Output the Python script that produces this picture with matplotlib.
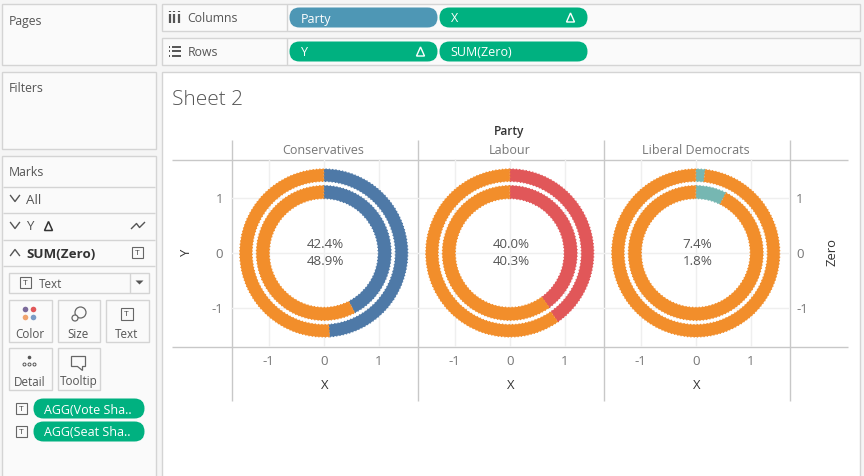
import matplotlib
matplotlib.use("Agg")
import matplotlib.pyplot as plt
from matplotlib.patches import Rectangle, FancyBboxPatch, Circle, Polygon

plt.rcParams["font.family"] = ["Open Sans", "DejaVu Sans"]

parties = ["Conservatives", "Labour", "Liberal Democrats"]
vote_share = [42.4, 40.0, 7.4]
seat_share = [48.9, 40.3, 1.8]
party_colors = ["#4E79A7", "#E15759", "#76B7B2"]
ticks = [-1, 0, 1]
other_color = "#F28E2B"

W, H = 864, 476
GREEN = "#00B180"
BORDER = "#D4D4D4"
LINE = "#C8C8C8"
TXT = "#555555"

fig = plt.figure(figsize=(W / 100, H / 100), dpi=100, facecolor="#F5F5F5")

# whole figure in pixels for the Tableau window around the chart
ui = fig.add_axes([0, 0, 1, 1])
ui.set_xlim(0.5, W + 0.5)
ui.set_ylim(H + 0.5, 0.5)
ui.axis("off")


def box(x0, y0, x1, y1, face="#FAFAFA", edge=BORDER, lw=1):
    ui.add_patch(Rectangle((x0, y0), x1 - x0, y1 - y0, fc=face, ec=edge, lw=lw))


def pill(x0, y0, x1, y1, label, color=GREEN, delta=False, r=9, size=9):
    ui.add_patch(FancyBboxPatch((x0 + r, y0 + r), x1 - x0 - 2 * r, y1 - y0 - 2 * r,
                                boxstyle=f"round,pad={r},rounding_size={r}", fc=color, ec="none"))
    ui.text(x0 + 11, (y0 + y1) / 2, label, color="white", fontsize=size, va="center_baseline")
    if delta:
        dx = x1 - 17
        ym = (y0 + y1) / 2
        ui.add_patch(Polygon([(dx - 4, ym + 4.5), (dx + 4, ym + 4.5), (dx, ym - 4.5)], fc="none", ec="white", lw=1))


def t_icon(x, y, s=11):
    ui.add_patch(Rectangle((x - s / 2, y - s / 2), s, s, fc="none", ec="#666666", lw=0.8))
    ui.text(x, y, "T", fontsize=6, color="#444444", ha="center", va="center_baseline")


def hline(y, x0, x1, c=BORDER):
    ui.plot([x0, x1], [y, y], color=c, lw=1, solid_capstyle="butt")


def vline(x, y0, y1, c=BORDER):
    ui.plot([x, x], [y0, y1], color=c, lw=1, solid_capstyle="butt")


# left cards
box(2, 4, 156, 65)
ui.text(9, 20, "Pages", fontsize=8.8, color=TXT, va="center_baseline")
box(2, 72, 156, 149)
ui.text(9, 88, "Filters", fontsize=8.8, color=TXT, va="center_baseline")
box(2, 156, 156, 482)
ui.text(9, 172, "Marks", fontsize=8.8, color=TXT, va="center_baseline")
for y in [187, 213, 240, 266]:
    hline(y, 3, 155)


def chevron(y, up=False):
    d = -3 if up else 3
    ui.plot([11, 15.5, 20], [y - d, y + d, y - d], color="#555555", lw=1)


chevron(199)
ui.text(27, 199, "All", fontsize=9.6, color=TXT, va="center_baseline")
chevron(226)
ui.text(27, 226, "Y", fontsize=9.6, color=TXT, va="center_baseline")
ui.add_patch(Polygon([(45, 231), (53, 231), (49, 222)], fc="none", ec="#333333", lw=1.1))
ui.plot([132, 137, 140, 145], [229, 224, 228, 223], color="#555555", lw=1)
chevron(253, up=True)
ui.text(27, 253, "SUM(Zero)", fontsize=9.6, fontweight="bold", color="#333333", va="center_baseline")
t_icon(138, 253)

# mark type dropdown
box(9, 273, 149, 293, face="#FAFAFA")
vline(130, 273, 293)
t_icon(26, 283)
ui.text(39, 284, "Text", fontsize=8.4, color=TXT, va="center_baseline")
ui.add_patch(Polygon([(136, 281), (144, 281), (140, 285)], fc="#555555", ec="none"))

# mark buttons
for x0, x1, y0, y1, label in [(9, 52, 300, 342, "Color"), (58, 100, 300, 342, "Size"),
                              (106, 149, 300, 342, "Text"), (9, 52, 348, 390, "Detail"),
                              (58, 100, 348, 390, "Tooltip")]:
    box(x0, y0, x1, y1)
    ui.text((x0 + x1) / 2, y1 - 9, label, fontsize=8.4, color=TXT, ha="center", va="center_baseline")
for cx, cy, c in [(26, 310, "#7B6A9B"), (34, 310, "#E15759"), (26, 318, "#F0A46E"), (34, 318, "#7A9CC6")]:
    ui.add_patch(Circle((cx, cy), 2.8, fc=c, ec="none"))
ui.add_patch(Circle((81, 313), 5.5, fc="none", ec="#666666", lw=0.9))
ui.add_patch(Circle((75.5, 318.5), 3, fc="#FAFAFA", ec="#666666", lw=0.9))
t_icon(127, 314, 12)
ui.add_patch(Circle((30, 358), 1.8, fc="#555555", ec="none"))
for cx in [25, 30, 35]:
    ui.add_patch(Circle((cx, 365), 1.5, fc="none", ec="#555555", lw=0.7))
ui.add_patch(Polygon([(72, 357), (86, 357), (86, 367), (83, 367), (83, 371), (78, 367), (72, 367)],
                     fc="none", ec="#666666", lw=0.9))

t_icon(22, 409)
pill(34, 399, 145, 419, "AGG(Vote Sha..", r=10)
t_icon(22, 432)
pill(34, 422, 145, 442, "AGG(Seat Sha..", r=10)

# shelves
box(162, 4, 860, 31)
box(162, 38, 860, 65)
vline(287, 4, 31)
vline(287, 38, 65)
ui.text(188, 18, "Columns", fontsize=8.8, color=TXT, va="center_baseline")
ui.text(188, 52, "Rows", fontsize=8.8, color=TXT, va="center_baseline")
for x in [170, 174.5, 179]:
    ui.plot([x, x], [14, 23], color="#555555", lw=1.6, solid_capstyle="butt")
    ui.plot([x, x], [11, 12.5], color="#555555", lw=1.6, solid_capstyle="butt")
for y in [47, 51.5, 56]:
    ui.plot([172, 181], [y, y], color="#555555", lw=1.4, solid_capstyle="butt")
    ui.plot([169, 170.5], [y, y], color="#555555", lw=1.4, solid_capstyle="butt")
pill(290, 8, 438, 28, "Party", color="#4E97B5", r=10)
pill(440, 8, 588, 28, "X", delta=True, r=10)
pill(290, 42, 438, 62, "Y", delta=True, r=10)
pill(440, 42, 588, 62, "SUM(Zero)", r=10)

# sheet area
box(162, 72, 860, 482, face="white")
ui.text(173, 98, "Sheet 2", fontsize=15, color="#555555", va="center_baseline", fontweight="light")
ui.text(510, 131, "Party", fontsize=8.6, color="#333333", ha="center", va="center_baseline", fontweight="semibold")
for x in [232, 418, 604, 790]:
    vline(x, 140, 401, LINE)
hline(160, 172, 848, LINE)
hline(347, 172, 848, LINE)
ui.text(187, 253, "Y", fontsize=9.4, color="#333333", rotation=90, ha="center", va="center")
ui.text(833, 252, "Zero", fontsize=9.4, color="#333333", rotation=90, ha="center", va="center")

# one panel per party
lefts = [232, 418, 604]
for i, party in enumerate(parties):
    ax = fig.add_axes([(lefts[i] - 0.7) / W, 1 - 346.5 / H, 186 / W, 187 / H])
    ax.patch.set_alpha(0)
    ax.set_axisbelow(True)

    # outer ring is seat share, inner ring is vote share
    for value, radius, width in [(seat_share[i], 1.527, 0.225), (vote_share[i], 1.225, 0.235)]:
        wedges, _ = ax.pie([value, 100 - value], radius=radius, startangle=90, counterclock=False,
                           colors=[party_colors[i], other_color], frame=True,
                           wedgeprops=dict(width=width, linewidth=0.9, linestyle=":"))
        # dotted edge in the wedge's own colour gives the rough rim of the original
        for w in wedges:
            w.set_edgecolor(w.get_facecolor())

    for s in ax.spines.values():
        s.set_visible(False)
    ax.set_xlim(-1.68, 1.70)
    ax.set_ylim(-1.70, 1.70)
    ax.set_xticks(ticks)
    ax.set_yticks(ticks)
    ax.set_xticklabels([str(v) for v in ticks])
    ax.grid(color="#EFEFEF", lw=1)
    ax.axhline(0, color="#AAAAAA", lw=0.7, ls=(0, (2, 2)), zorder=0.5)
    ax.axvline(0, color="#AAAAAA", lw=0.7, ls=(0, (2, 2)), zorder=0.5)
    ax.tick_params(length=0, labelsize=9.6, labelcolor="#777777", pad=6)
    if i == 0:
        ax.set_yticklabels([str(v) for v in ticks])
        ax.tick_params(axis="y", pad=6)
    elif i == 2:
        ax.yaxis.tick_right()
        ax.set_yticklabels([str(v) for v in ticks])
        ax.tick_params(axis="y", pad=5, length=0)
    else:
        ax.set_yticklabels([])
    ax.set_xlabel("X", fontsize=9.4, color="#333333", labelpad=8)

    ax.text(0.03, 0.16, f"{vote_share[i]:.1f}%", fontsize=9.6, color=TXT, ha="center", va="center")
    ax.text(0.03, -0.16, f"{seat_share[i]:.1f}%", fontsize=9.6, color=TXT, ha="center", va="center")
    ui.text(lefts[i] + 92, 150, party, fontsize=9, color="#777777", ha="center", va="center_baseline")

fig.savefig("out.png", dpi=100, facecolor=fig.get_facecolor())
